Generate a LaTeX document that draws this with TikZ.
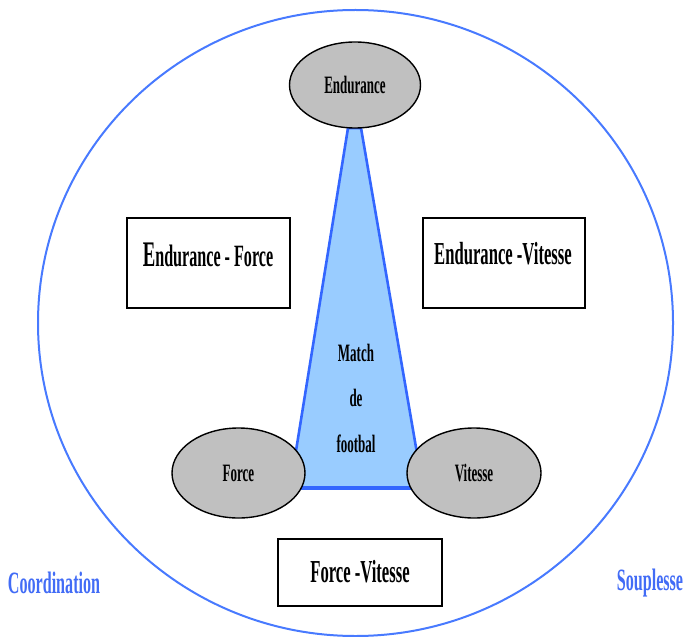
\documentclass[tikz,border=0pt]{standalone}
\usepackage{fontspec}
\usetikzlibrary{shapes.geometric}
\newfontfamily\condfont{Liberation Serif}[FakeStretch=0.52]
\definecolor{ringblue}{RGB}{72,122,255}
\definecolor{wordblue}{RGB}{66,108,246}
\definecolor{conefill}{RGB}{153,204,255}
\definecolor{coneline}{RGB}{51,102,255}
\definecolor{quality}{RGB}{192,192,192}
\tikzset{
  quality/.style={ellipse, draw=black, line width=1.4pt, fill=quality,
    inner sep=0pt, font=\condfont\bfseries\fontsize{25}{28}\selectfont},
  pairbox/.style={draw=black, line width=2.6pt, fill=white, inner sep=0pt},
  pairtext/.style={inner sep=0pt, font=\condfont\bfseries\fontsize{32}{36}\selectfont},
  sideword/.style={inner sep=0pt, text=wordblue,
    font=\condfont\bfseries\fontsize{31}{35}\selectfont},
}
\begin{document}
\begin{tikzpicture}[x=1pt,y=-1pt]
\useasboundingbox (0,0) rectangle (684,636);

% outer ring
\draw[ringblue, line width=2pt] (355.5,323) ellipse [x radius=317.5, y radius=313];

% central cone
\coordinate (tl) at (348,128);
\coordinate (tr) at (361,128);
\coordinate (br) at (423,488);
\coordinate (bl) at (290,488);
\fill[conefill] (tl) -- (tr) -- (br) -- (bl) -- cycle;
\draw[coneline, line width=2.6pt, line join=round] (bl) -- (tl) -- (tr) -- (br);
\draw[coneline, line width=4.6pt] (bl) -- (br);

\node[inner sep=0pt, align=center, font=\condfont\bfseries\fontsize{25}{45.5}\selectfont]
  (match) at (356,398) {Match\\de\\footbal};

% the three qualities
\node[quality, minimum width=131pt, minimum height=86pt] (end) at (355,85) {Endurance};
\node[quality, minimum width=133pt, minimum height=90pt] (for) at (238.5,473) {Force};
\node[quality, minimum width=134pt, minimum height=90pt] (vit) at (474,473) {Vitesse};

% pairings
\node[pairbox, minimum width=163pt, minimum height=90pt] (ef) at (208.5,263) {};
\node[pairtext] (eft) at (208,255) {{\fontsize{36}{40}\selectfont E}{\fontsize{31}{35}\selectfont ndurance - Force}};
\node[pairbox, minimum width=162pt, minimum height=90pt] (ev) at (504,263) {};
\node[pairtext] (evt) at (503,254) {Endurance -Vitesse};
\node[pairbox, minimum width=164pt, minimum height=67pt] (fv) at (360,572.5) {};
\node[pairtext] (fvt) at (360,572) {Force -Vitesse};

% side words
\node[sideword] (coord) at (54,583) {Coordination};
\node[sideword] (soup) at (650,583) {Souplesse};
\end{tikzpicture}
\end{document}
